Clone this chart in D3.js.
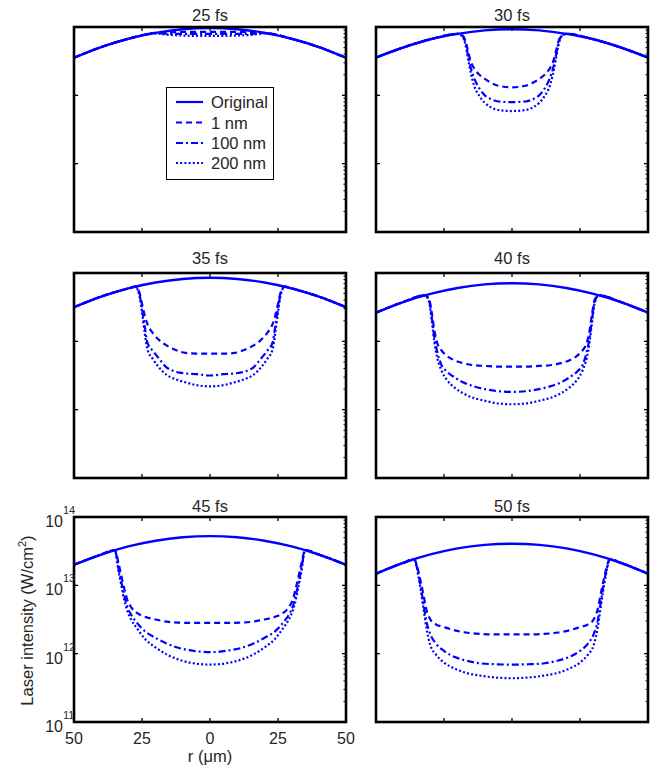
<!DOCTYPE html>
<html><head><meta charset="utf-8">
<script src="https://cdn.jsdelivr.net/npm/d3@7/dist/d3.min.js"></script>
<style>html,body{margin:0;padding:0;background:#fff;}svg{display:block;font-family:Arial,"Liberation Sans",sans-serif;}</style>
</head><body><svg id="c" width="653" height="773"></svg>
<script>
// ---------- data (intensity in W/cm^2, r in micrometres) ----------
const panelTitles = ["25 fs","30 fs","35 fs","40 fs","45 fs","50 fs"];
const seriesNames = ["Original","1 nm","100 nm","200 nm"];
const xTickLabels = ["50","25","0","25","50"];
const xTickValues = [-50,-25,0,25,50];
const yTickValues = [1e11,1e12,1e13,1e14];
const yTickExponents = ["11","12","13","14"];

const rOrig = [-50,-40,-30,-20,-10,0,10,20,30,40,50];
const orig25 = [3.55e13,5.09e13,6.73e13,8.22e13,9.29e13,9.66e13,9.29e13,8.22e13,6.73e13,5.09e13,3.55e13];
const orig30 = [3.57e13,5.01e13,6.61e13,7.94e13,8.91e13,9.27e13,8.91e13,7.94e13,6.61e13,5.01e13,3.57e13];
const orig35 = [3.16e13,4.52e13,5.96e13,7.26e13,8.18e13,8.51e13,8.18e13,7.26e13,5.96e13,4.52e13,3.16e13];
const orig40 = [2.63e13,3.76e13,4.95e13,6.04e13,6.81e13,7.08e13,6.81e13,6.04e13,4.95e13,3.76e13,2.63e13];
const orig45 = [2.00e13,2.82e13,3.71e13,4.50e13,5.05e13,5.25e13,5.05e13,4.50e13,3.71e13,2.82e13,2.00e13];
const orig50 = [1.48e13,2.13e13,2.83e13,3.47e13,3.91e13,4.07e13,3.91e13,3.47e13,2.83e13,2.13e13,1.48e13];

const rDip25 = [-50,-40,-30,-20,-15,-10,-5,0,5,10,15,20,30,40,50];
const nm1_25   = [3.55e13,5.09e13,6.73e13,8.22e13,8.32e13,8.51e13,8.51e13,8.51e13,8.51e13,8.51e13,8.32e13,8.22e13,6.73e13,5.09e13,3.55e13];
const nm100_25 = [3.55e13,5.09e13,6.73e13,8.13e13,7.94e13,7.94e13,7.94e13,7.94e13,7.94e13,7.94e13,7.94e13,8.13e13,6.73e13,5.09e13,3.55e13];
const nm200_25 = [3.55e13,5.09e13,6.73e13,8.04e13,7.67e13,7.50e13,7.41e13,7.41e13,7.41e13,7.50e13,7.67e13,8.04e13,6.73e13,5.09e13,3.55e13];

const rDip30 = [-50,-40,-30,-20,-18,-17,-16,-15,-14,-12,-10,-8,-5,0,5,8,10,12,14,15,16,17,18,20,30,40,50];
const nm1_30   = [3.57e13,5.01e13,6.61e13,7.94e13,7.41e13,6.03e13,4.17e13,3.02e13,2.51e13,2.00e13,1.74e13,1.55e13,1.38e13,1.31e13,1.38e13,1.55e13,1.74e13,2.00e13,2.51e13,3.02e13,4.17e13,6.03e13,7.41e13,7.94e13,6.61e13,5.01e13,3.57e13];
const nm100_30 = [3.57e13,5.01e13,6.61e13,7.94e13,7.24e13,5.62e13,3.55e13,2.40e13,1.82e13,1.26e13,1.00e13,8.91e12,8.13e12,7.94e12,8.13e12,8.91e12,1.00e13,1.26e13,1.82e13,2.40e13,3.55e13,5.62e13,7.24e13,7.94e13,6.61e13,5.01e13,3.57e13];
const nm200_30 = [3.57e13,5.01e13,6.61e13,7.94e13,7.08e13,5.25e13,3.16e13,2.00e13,1.41e13,9.77e12,7.76e12,6.76e12,6.10e12,5.89e12,6.10e12,6.76e12,7.76e12,9.77e12,1.41e13,2.00e13,3.16e13,5.25e13,7.08e13,7.94e13,6.61e13,5.01e13,3.57e13];

const rDip35 = [-50,-40,-30,-27.5,-26,-25,-24,-23,-21,-19,-16,-13,-9,-5,0,5,9,13,16,19,21,23,24,25,26,27.5,30,40,50];
const nm1_35   = [3.16e13,4.52e13,5.96e13,6.31e13,5.25e13,3.55e13,2.40e13,1.78e13,1.32e13,1.07e13,8.71e12,7.59e12,6.76e12,6.61e12,6.61e12,6.61e12,6.76e12,7.59e12,8.71e12,1.07e13,1.32e13,1.78e13,2.40e13,3.55e13,5.25e13,6.31e13,5.96e13,4.52e13,3.16e13];
const nm100_35 = [3.16e13,4.52e13,5.96e13,6.31e13,5.01e13,3.02e13,1.66e13,9.55e12,7.24e12,5.75e12,4.17e12,3.63e12,3.39e12,3.31e12,3.16e12,3.31e12,3.39e12,3.63e12,4.17e12,5.75e12,7.24e12,9.55e12,1.66e13,3.02e13,5.01e13,6.31e13,5.96e13,4.52e13,3.16e13];
const nm200_35 = [3.16e13,4.52e13,5.96e13,6.31e13,4.79e13,2.69e13,1.32e13,7.59e12,5.50e12,4.27e12,3.24e12,2.82e12,2.51e12,2.29e12,2.19e12,2.29e12,2.51e12,2.82e12,3.24e12,4.27e12,5.50e12,7.59e12,1.32e13,2.69e13,4.79e13,6.31e13,5.96e13,4.52e13,3.16e13];

const rDip40 = [-50,-40,-32,-30.5,-29.5,-28.5,-27.5,-26,-24,-21,-18,-14,-10,-5,0,5,10,14,18,21,24,26,27.5,28.5,29.5,30.5,32,40,50];
const nm1_40   = [2.63e13,3.76e13,4.72e13,4.17e13,2.63e13,1.41e13,9.55e12,7.41e12,6.17e12,5.25e12,4.79e12,4.47e12,4.37e12,4.27e12,4.27e12,4.27e12,4.37e12,4.47e12,4.79e12,5.25e12,6.17e12,7.41e12,9.55e12,1.41e13,2.63e13,4.17e13,4.72e13,3.76e13,2.63e13];
const nm100_40 = [2.63e13,3.76e13,4.72e13,3.98e13,2.24e13,1.12e13,7.08e12,4.57e12,3.63e12,2.95e12,2.51e12,2.19e12,2.00e12,1.86e12,1.82e12,1.86e12,2.00e12,2.19e12,2.51e12,2.95e12,3.63e12,4.57e12,7.08e12,1.12e13,2.24e13,3.98e13,4.72e13,3.76e13,2.63e13];
const nm200_40 = [2.63e13,3.76e13,4.72e13,3.80e13,2.00e13,9.55e12,5.75e12,3.80e12,2.75e12,2.09e12,1.74e12,1.48e12,1.35e12,1.23e12,1.20e12,1.23e12,1.35e12,1.48e12,1.74e12,2.09e12,2.75e12,3.80e12,5.75e12,9.55e12,2.00e13,3.80e13,4.72e13,3.76e13,2.63e13];

const rDip45 = [-50,-40,-35,-33.5,-32.5,-31.5,-30.5,-29,-27,-24,-20,-16,-12,-6,0,6,12,16,20,24,27,29,30.5,31.5,32.5,33.5,35,40,50];
const nm1_45   = [2.00e13,2.82e13,3.27e13,2.00e13,1.32e13,8.91e12,6.31e12,4.79e12,3.98e12,3.47e12,3.16e12,2.95e12,2.85e12,2.82e12,2.82e12,2.82e12,2.85e12,2.95e12,3.16e12,3.47e12,3.98e12,4.79e12,6.31e12,8.91e12,1.32e13,2.00e13,3.27e13,2.82e13,2.00e13];
const nm100_45 = [2.00e13,2.82e13,3.27e13,1.66e13,1.07e13,7.08e12,5.01e12,3.72e12,2.88e12,2.14e12,1.70e12,1.41e12,1.23e12,1.10e12,1.05e12,1.10e12,1.23e12,1.41e12,1.70e12,2.14e12,2.88e12,3.72e12,5.01e12,7.08e12,1.07e13,1.66e13,3.27e13,2.82e13,2.00e13];
const nm200_45 = [2.00e13,2.82e13,3.27e13,1.51e13,9.55e12,6.03e12,4.37e12,3.16e12,2.40e12,1.66e12,1.23e12,9.77e11,8.32e11,7.24e11,6.92e11,7.24e11,8.32e11,9.77e11,1.23e12,1.66e12,2.40e12,3.16e12,4.37e12,6.03e12,9.55e12,1.51e13,3.27e13,2.82e13,2.00e13];

const rDip50 = [-50,-40,-36,-34.5,-33.5,-32.5,-31.5,-30,-28,-25,-21,-17,-12,-6,0,6,12,17,21,25,28,30,31.5,32.5,33.5,34.5,36,40,50];
const nm1_50   = [1.48e13,2.13e13,2.41e13,1.66e13,1.10e13,7.08e12,4.47e12,3.16e12,2.69e12,2.45e12,2.19e12,2.04e12,1.95e12,1.91e12,1.91e12,1.91e12,1.95e12,2.04e12,2.19e12,2.45e12,2.69e12,3.16e12,4.47e12,7.08e12,1.10e13,1.66e13,2.41e13,2.13e13,1.48e13];
const nm100_50 = [1.48e13,2.13e13,2.41e13,1.51e13,9.33e12,5.25e12,3.02e12,1.91e12,1.41e12,1.10e12,8.91e11,7.94e11,7.24e11,7.00e11,6.92e11,7.00e11,7.24e11,7.94e11,8.91e11,1.10e12,1.41e12,1.91e12,3.02e12,5.25e12,9.33e12,1.51e13,2.41e13,2.13e13,1.48e13];
const nm200_50 = [1.48e13,2.13e13,2.41e13,1.41e13,8.32e12,4.47e12,2.40e12,1.32e12,9.77e11,7.41e11,6.03e11,5.25e11,4.79e11,4.47e11,4.37e11,4.47e11,4.79e11,5.25e11,6.03e11,7.41e11,9.77e11,1.32e12,2.40e12,4.47e12,8.32e12,1.41e13,2.41e13,2.13e13,1.48e13];

// ---------- assemble ----------
const panels = [
  {orig:orig25, r:rDip25, s:[nm1_25,nm100_25,nm200_25]},
  {orig:orig30, r:rDip30, s:[nm1_30,nm100_30,nm200_30]},
  {orig:orig35, r:rDip35, s:[nm1_35,nm100_35,nm200_35]},
  {orig:orig40, r:rDip40, s:[nm1_40,nm100_40,nm200_40]},
  {orig:orig45, r:rDip45, s:[nm1_45,nm100_45,nm200_45]},
  {orig:orig50, r:rDip50, s:[nm1_50,nm100_50,nm200_50]}
];
const dashes = [null, "6,4", "7,3,2,3", "2,2.2"];
const BLUE = "#0000ff", TXT = "#262626";

const svg = d3.select("#c");
const colX = [74, 376], PW = 272;
const rowY = [27, 273, 517], PH = 205;
const titleBase = [21, 264, 512];

panels.forEach((p, i) => {
  const ci = i % 2, ri = Math.floor(i / 2);
  const L = colX[ci], T = rowY[ri];
  const x = d3.scaleLinear().domain([-50, 50]).range([L, L + PW]);
  const y = d3.scaleLog().domain([1e11, 1e14]).range([T + PH, T]);
  const g = svg.append("g");
  const cid = "clip" + i;
  svg.append("clipPath").attr("id", cid).append("rect")
    .attr("x", L).attr("y", T).attr("width", PW).attr("height", PH);
  const line = d3.line().x(d => x(d[0])).y(d => y(d[1])).curve(d3.curveMonotoneX);
  const cg = g.append("g").attr("clip-path", `url(#${cid})`);
  p.s.forEach((vals, k) => {
    cg.append("path").datum(p.r.map((r, j) => [r, vals[j]]))
      .attr("d", line).attr("fill", "none").attr("stroke", BLUE)
      .attr("stroke-width", 2.2).attr("stroke-dasharray", dashes[k + 1]);
  });
  cg.append("path").datum(rOrig.map((r, j) => [r, p.orig[j]]))
    .attr("d", line).attr("fill", "none").attr("stroke", BLUE).attr("stroke-width", 2.4);

  // inward ticks
  const tk = g.append("g").attr("stroke", "#000").attr("stroke-width", 1.3);
  [-25, 0, 25].forEach(v => {
    tk.append("line").attr("x1", x(v)).attr("x2", x(v)).attr("y1", T + PH).attr("y2", T + PH - 4);
    tk.append("line").attr("x1", x(v)).attr("x2", x(v)).attr("y1", T).attr("y2", T + 4);
  });
  [1e12, 1e13].forEach(v => {
    tk.append("line").attr("x1", L).attr("x2", L + 4).attr("y1", y(v)).attr("y2", y(v));
    tk.append("line").attr("x1", L + PW).attr("x2", L + PW - 4).attr("y1", y(v)).attr("y2", y(v));
  });
  // minor ticks on right
  const minors = [];
  [1e11, 1e12, 1e13].forEach(d => { for (let m = 2; m <= 9; m++) minors.push(d * m); });
  minors.forEach(v => {
    tk.append("line").attr("x1", L + PW).attr("x2", L + PW - 2.5).attr("y1", y(v)).attr("y2", y(v)).attr("stroke-width", 1);
  });
  // frame
  g.append("rect").attr("x", L).attr("y", T).attr("width", PW).attr("height", PH)
    .attr("fill", "none").attr("stroke", "#000").attr("stroke-width", 2.6);
  // title
  g.append("text").attr("x", L + PW / 2).attr("y", titleBase[ri]).attr("text-anchor", "middle")
    .attr("font-size", 16.5).attr("fill", TXT).text(panelTitles[i]);

  if (i === 4) {
    xTickValues.forEach((v, j) => {
      g.append("text").attr("x", x(v)).attr("y", T + PH + 22).attr("text-anchor", "middle")
        .attr("font-size", 16).attr("fill", TXT).text(xTickLabels[j]);
    });
    g.append("text").attr("x", x(0)).attr("y", T + PH + 40).attr("text-anchor", "middle")
      .attr("font-size", 16.5).attr("fill", TXT).text("r (μm)");
    yTickValues.forEach((v, j) => {
      g.append("text").attr("x", L - 11).attr("y", y(v) + 10).attr("text-anchor", "end")
        .attr("font-size", 16).attr("fill", TXT).text("10");
      g.append("text").attr("x", L - 11).attr("y", y(v) - 3).attr("text-anchor", "start")
        .attr("font-size", 11).attr("fill", TXT).text(yTickExponents[j]);
    });
    const yl = g.append("text").attr("transform", `translate(33,${T + PH / 2 + 1}) rotate(-90)`)
      .attr("text-anchor", "middle").attr("font-size", 16.5).attr("fill", TXT);
    yl.append("tspan").text("Laser intensity (W/cm");
    yl.append("tspan").attr("font-size", 11).attr("dy", -7).text("2");
    yl.append("tspan").attr("dy", 7).text(")");
  }

  if (i === 0) {
    const lg = g.append("g");
    lg.append("rect").attr("x", 166.5).attr("y", 87.5).attr("width", 107).attr("height", 92)
      .attr("fill", "#fff").attr("stroke", "#000").attr("stroke-width", 1);
    const ys = [102, 122.5, 143, 163];
    seriesNames.forEach((nm, k) => {
      lg.append("line").attr("x1", 176).attr("x2", 203).attr("y1", ys[k]).attr("y2", ys[k])
        .attr("stroke", BLUE).attr("stroke-width", 2.2).attr("stroke-dasharray", dashes[k]);
      lg.append("text").attr("x", 211).attr("y", ys[k] + 6).attr("font-size", 16.5)
        .attr("fill", TXT).text(nm);
    });
  }
});
</script></body></html>
